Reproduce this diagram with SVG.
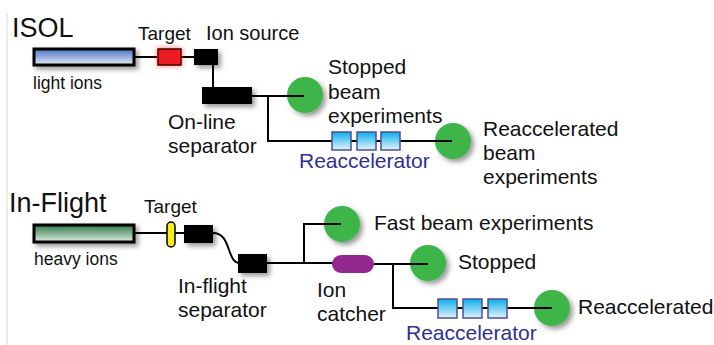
<svg xmlns="http://www.w3.org/2000/svg" width="714" height="345" viewBox="0 0 714 345">
<defs>
  <linearGradient id="gBlue" x1="0" y1="0" x2="0" y2="1">
    <stop offset="0" stop-color="#4a72c4"/>
    <stop offset="1" stop-color="#e6ebf7"/>
  </linearGradient>
  <linearGradient id="gGreen" x1="0" y1="0" x2="0" y2="1">
    <stop offset="0" stop-color="#2d7a4c"/>
    <stop offset="1" stop-color="#e2ece0"/>
  </linearGradient>
  <linearGradient id="gAcc" x1="0" y1="0" x2="0" y2="1">
    <stop offset="0" stop-color="#0aaeea"/>
    <stop offset="1" stop-color="#e2f5fd"/>
  </linearGradient>
  <filter id="sh" x="-40%" y="-40%" width="200%" height="200%">
    <feDropShadow dx="3" dy="3" stdDeviation="2.5" flood-color="#000" flood-opacity="0.4"/>
  </filter>
  <filter id="glow" x="-50%" y="-50%" width="200%" height="200%">
    <feDropShadow dx="0" dy="0" stdDeviation="2.5" flood-color="#ff2020" flood-opacity="0.7"/>
  </filter>
</defs>
<style>
  text { font-family: "Liberation Sans", Arial, sans-serif; fill: #111; }
  .title { font-size: 27px; }
  .lbl { font-size: 21px; }
  .tgt { font-size: 19px; }
  .small { font-size: 17.5px; }
  .acc { font-size: 21px; fill: #2e3192; }
  .line { stroke: #000; stroke-width: 2; fill: none; }
  .blk { fill: #000; filter: url(#sh); }
  .circ { fill: #3cb54a; filter: url(#sh); }
  .box { fill: url(#gAcc); stroke: #4d4d9a; stroke-width: 1.5; }
</style>
<rect width="714" height="345" fill="#fff"/>
<line x1="7" y1="13" x2="7" y2="345" stroke="#d9d9d9" stroke-width="1"/>

<g id="stopped-beam">
  <circle class="circ" cx="305" cy="95" r="18"/>
  <text class="lbl" x="328" y="74">Stopped</text>
  <text class="lbl" x="328" y="99">beam</text>
  <text class="lbl" x="328" y="123">experiments</text>
</g>

<g id="reaccelerated-beam">
  <circle class="circ" cx="453" cy="141" r="18"/>
  <text class="lbl" x="483" y="136">Reaccelerated</text>
  <text class="lbl" x="483" y="160">beam</text>
  <text class="lbl" x="483" y="184">experiments</text>
</g>

<g id="fast-beam">
  <circle class="circ" cx="342" cy="224" r="18"/>
  <text class="lbl" x="374" y="230">Fast beam experiments</text>
</g>

<g id="stopped">
  <circle class="circ" cx="428" cy="263" r="18"/>
  <text class="lbl" x="458" y="269">Stopped</text>
</g>

<g id="reaccelerated">
  <circle class="circ" cx="552" cy="308" r="18"/>
  <text class="lbl" x="578" y="314">Reaccelerated</text>
</g>

<g id="connectors">
  <!-- ISOL -->
  <line class="line" x1="135" y1="57" x2="157" y2="57"/>
  <line class="line" x1="181" y1="57" x2="194" y2="57"/>
  <line class="line" x1="213" y1="65" x2="213" y2="87"/>
  <line class="line" x1="252" y1="96" x2="304" y2="96"/>
  <polyline class="line" points="268,96 268,141 452,141"/>
  <!-- In-Flight -->
  <line class="line" x1="135" y1="233" x2="184" y2="233"/>
  <path class="line" d="M213,233 C232,233 226,263 240,263"/>
  <line class="line" x1="267" y1="263" x2="333" y2="263"/>
  <polyline class="line" points="304,263 304,224 341,224"/>
  <line class="line" x1="374" y1="264" x2="428" y2="264"/>
  <polyline class="line" points="393,264 393,308 552,308"/>
</g>

<g id="isol-title"><text class="title" x="12" y="37">ISOL</text></g>

<g id="light-ions">
  <rect x="34" y="49" width="100" height="16" fill="url(#gBlue)" stroke="#000" stroke-width="3" filter="url(#sh)"/>
  <text class="small" x="33" y="89">light ions</text>
</g>

<g id="isol-target">
  <rect x="158" y="49" width="23" height="16" fill="#ed1c24" stroke="#3a0000" stroke-width="1.5" filter="url(#glow)"/>
  <text class="tgt" x="138" y="40">Target</text>
</g>

<g id="ion-source">
  <rect class="blk" x="194" y="49" width="24" height="16"/>
  <text class="tgt" x="206" y="40" style="font-size:20px">Ion source</text>
</g>

<g id="online-separator">
  <rect class="blk" x="202" y="87" width="50" height="17"/>
  <text class="lbl" x="168" y="129">On-line</text>
  <text class="lbl" x="168" y="153">separator</text>
</g>

<g id="isol-reaccelerator">
  <rect class="box" x="332" y="132" width="19" height="18"/>
  <rect class="box" x="357" y="132" width="19" height="18"/>
  <rect class="box" x="381" y="132" width="19" height="18"/>
  <text class="acc" x="299" y="168">Reaccelerator</text>
</g>

<g id="inflight-title"><text class="title" x="9" y="212">In-Flight</text></g>

<g id="heavy-ions">
  <rect x="34" y="225" width="100" height="17" fill="url(#gGreen)" stroke="#000" stroke-width="3" filter="url(#sh)"/>
  <text class="small" x="34" y="265">heavy ions</text>
</g>

<g id="inflight-target">
  <rect x="167" y="222" width="8" height="25" rx="4" ry="4" fill="#f5ec1a" stroke="#000" stroke-width="1.5"/>
  <text class="tgt" x="144" y="213">Target</text>
</g>

<g id="inflight-box1">
  <rect class="blk" x="184" y="225" width="29" height="18"/>
</g>

<g id="inflight-separator">
  <rect class="blk" x="238" y="254" width="29" height="19"/>
  <text class="lbl" x="178" y="293">In-flight</text>
  <text class="lbl" x="178" y="317">separator</text>
</g>

<g id="ion-catcher">
  <rect x="332" y="255" width="42" height="18" rx="9" ry="9" fill="#92278f"/>
  <text class="lbl" x="317" y="297">Ion</text>
  <text class="lbl" x="317" y="321">catcher</text>
</g>

<g id="inflight-reaccelerator">
  <rect class="box" x="438" y="299" width="19" height="19"/>
  <rect class="box" x="463" y="299" width="19" height="19"/>
  <rect class="box" x="488" y="299" width="19" height="19"/>
  <text class="acc" x="406" y="340">Reaccelerator</text>
</g>
</svg>
